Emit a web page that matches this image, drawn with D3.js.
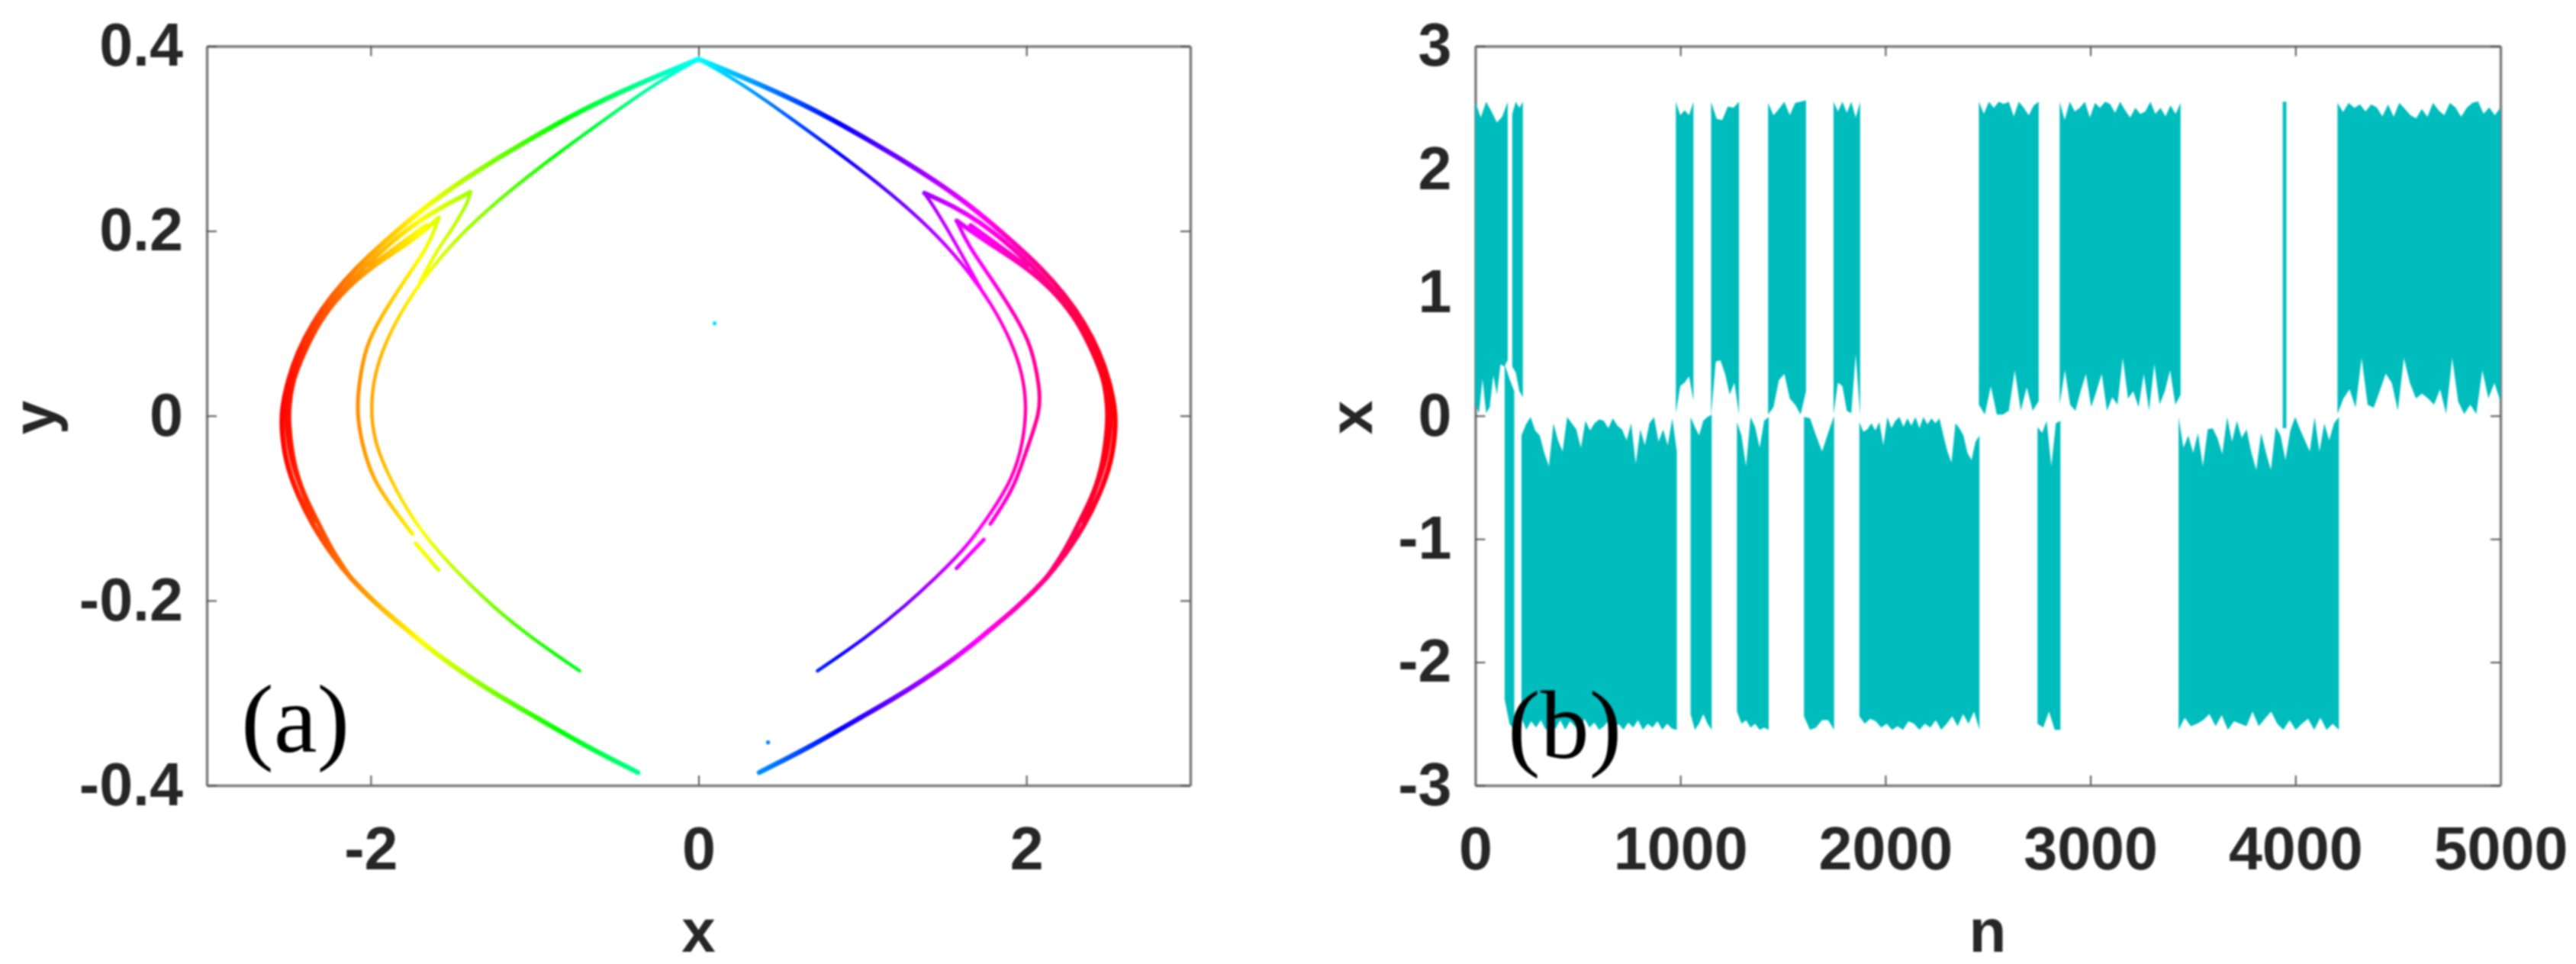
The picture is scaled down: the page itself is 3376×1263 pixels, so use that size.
<!DOCTYPE html>
<html><head><meta charset="utf-8">
<script src="https://cdn.jsdelivr.net/npm/d3@7/dist/d3.min.js"></script>
<style>
html,body{margin:0;padding:0;background:#fff}
svg{display:block;filter:blur(0.8px)}
.tick text{font-family:"Liberation Sans",Arial,sans-serif;font-weight:700;font-size:79px;fill:#262626}
.lab{font-family:"Liberation Sans",Arial,sans-serif;font-weight:700;font-size:80px;fill:#262626}
.pan{font-family:"Liberation Serif","Times New Roman",serif;font-size:128px;fill:#000}
</style></head><body>
<svg id="c" width="3376" height="1263"></svg>
<script>
// ---------- panel (a): branches of the attractor, [x, y]
const outerL=[[0,.386],[-.40,.357],[-.756,.327],[-1.022,.300],[-1.289,.272],[-1.497,.248],[-1.704,.221],[-1.912,.189],[-2.09,.160],[-2.238,.130],[-2.356,.100],[-2.445,.069],[-2.504,.039],[-2.54,.009],[-2.545,-.012],[-2.52,-.05],[-2.445,-.086],[-2.356,-.118],[-2.238,-.150],[-2.119,-.177],[-1.941,-.208],[-1.734,-.238],[-1.586,-.260],[-1.289,-.296],[-.993,-.326],[-.694,-.357],[-.370,-.386]];
const innerL=[[0,.386],[-.252,.361],[-.548,.324],[-.904,.278],[-1.171,.241],[-1.408,.204],[-1.615,.164],[-1.793,.120],[-1.912,.079],[-1.975,.046],[-2.003,.009],[-1.975,-.03],[-1.897,-.062],[-1.793,-.098],[-1.645,-.136],[-1.467,-.170],[-1.26,-.206],[-1.023,-.240],[-.726,-.276]];
const tipALowerL=[[-1.70,.145],[-1.586,.182],[-1.51,.2],[-1.452,.2176],[-1.408,.231],[-1.393,.242]];
const tipAUpperL=[[-1.393,.242],[-1.586,.2244],[-1.793,.2007],[-2.05,.160],[-2.2,.130],[-2.33,.100],[-2.42,.069],[-2.49,.039],[-2.515,.009],[-2.515,-.012],[-2.485,-.05],[-2.42,-.08],[-2.345,-.114]];
const tipBUpperL=[[-1.586,.214],[-1.74,.190],[-2.01,.160],[-2.195,.130],[-2.32,.100],[-2.405,.069],[-2.476,.039],[-2.50,.009],[-2.50,-.01],[-2.475,-.05],[-2.41,-.085],[-2.32,-.116],[-2.23,-.148],[-2.12,-.176]];
const fanL=[[-1.66,.206],[-1.80,.188],[-2.0,.162]];
const tipBLowerL=[[-1.586,.214],[-1.645,.184],[-1.793,.147],[-1.941,.106],[-2.03,.076],[-2.075,.032],[-2.085,-.001],[-2.04,-.04],[-1.98,-.07],[-1.882,-.096],[-1.745,-.128]];
const tailL=[[-1.725,-.138],[-1.586,-.167]];
const outerR=[[0,.386],[.40,.357],[.756,.327],[1.022,.300],[1.289,.272],[1.497,.248],[1.704,.221],[1.912,.189],[2.09,.160],[2.238,.130],[2.356,.100],[2.445,.069],[2.504,.039],[2.54,.009],[2.545,-.012],[2.52,-.05],[2.445,-.086],[2.356,-.118],[2.238,-.150],[2.119,-.177],[1.941,-.208],[1.734,-.238],[1.586,-.260],[1.289,-.296],[.993,-.326],[.694,-.357],[.370,-.386]];
const innerR=[[0,.386],[.252,.361],[.548,.324],[.904,.278],[1.171,.241],[1.408,.204],[1.615,.164],[1.793,.120],[1.912,.079],[1.975,.046],[2.003,.012],[1.98,-.03],[1.915,-.068],[1.793,-.103],[1.645,-.140],[1.467,-.172],[1.26,-.206],[1.023,-.240],[.726,-.276]];
const tipALowerR=[[1.72,.138],[1.617,.171],[1.49,.2107],[1.41,.233],[1.378,.241]];
const tipAUpperR=[[1.378,.241],[1.586,.2244],[1.793,.2007],[2.05,.160],[2.2,.130],[2.33,.100],[2.42,.069],[2.49,.039],[2.515,.009],[2.515,-.012],[2.485,-.05],[2.42,-.08],[2.345,-.114]];
const tipBUpperR=[[1.575,.211],[1.74,.190],[2.01,.160],[2.195,.130],[2.32,.100],[2.405,.069],[2.476,.039],[2.495,.009],[2.495,-.01],[2.47,-.05],[2.41,-.085],[2.32,-.116],[2.23,-.148],[2.12,-.176]];
const fanR=[[1.66,.206],[1.80,.188],[2.0,.162]];
const tipBLowerR=[[1.575,.211],[1.645,.184],[1.793,.147],[1.941,.106],[2.03,.076],[2.08,.032],[2.088,.005],[1.99,-.042],[1.926,-.078],[1.78,-.117]];
const tailR=[[1.74,-.134],[1.574,-.165]];
const strayPoints=[[.098,.100],[.424,-.3535]];
const xTicksA=[-2,0,2], xTickLabelsA=["-2","0","2"];
const yTicksA=[-.4,-.2,0,.2,.4], yTickLabelsA=["-0.4","-0.2","0","0.2","0.4"];
const hueStops=[0,60,120,180,240,300,360];

// ---------- panel (b): time series envelope, one stretch per residence in a well
const segStart=[0,143,180,225,978,1050,1150,1276,1428,1603,1747,1873,2456,2742,2850,3430,3938,4205];
const segEnd  =[158,190,232,983,1064,1153,1286,1431,1613,1750,1877,2459,2748,2854,3440,4212,3956,5000];
const segTop=[
[2.55,2.42,2.55,2.47,2.38,2.43,2.55],
[.42,.3,.2],
[2.45,2.55,2.5,2.55],
[-.16,-.07,-.01,-.12,-.16,-.3,-.41,-.06,-.2,-.29,-.01,-.06,-.11,-.26,-.04,-.12,-.06,-.03,-.04,-.1,-.02,-.08,-.11,-.2,-.06,-.39,-.11,-.24,-.06,-.01,-.21,-.11,-.24,-.02,-.29],
[2.55,2.44,2.48,2.44,2.55],
[-.01,-.09,-.16,-.04,-.01,.01],
[2.55,2.41,2.40,2.51,2.5,2.55],
[-.05,-.16,-.41,-.01,-.09,-.26,-.04,-.01],
[2.54,2.44,2.49,2.55,2.44,2.54,2.55,2.56],
[-.01,-.02,-.16,-.29,-.14,0],
[2.55,2.47,2.55,2.46,2.55,2.42,2.55],
[-.05,-.13,-.11,-.06,-.12,-.05,-.24,-.01,-.1,-.04,-.01,-.09,-.02,-.08,-.01,-.1,-.01,-.07,-.02,-.06,-.02,-.16,-.29,-.38,-.06,-.1,-.16,-.3,-.36,-.21,-.16],
[2.55,2.45,2.55,2.5,2.55,2.53,2.55,2.43,2.55,2.5,2.44,2.52,2.55],
[-.09,-.14,-.04,-.41,-.06,-.04],
[2.55,2.4,2.55,2.47,2.5,2.55,2.42,2.54,2.5,2.55,2.53,2.46,2.55,2.48,2.42,2.5,2.45,2.47,2.55,2.45,2.5,2.43,2.52,2.45,2.54],
[-.01,-.26,-.16,-.3,-.14,-.41,-.11,-.1,-.18,-.31,-.01,-.21,-.04,-.18,-.11,-.3,-.44,-.14,-.3,-.44,-.09,-.16,-.36,-.12,-.01,-.11,-.2,-.29,-.01,-.29,-.06,-.2,-.06,-.01],
[2.55,2.55],
[2.54,2.465,2.54,2.5,2.528,2.47,2.528,2.503,2.43,2.528,2.427,2.54,2.49,2.44,2.414,2.49,2.427,2.54,2.48,2.44,2.54,2.503,2.427,2.5,2.54,2.553,2.452,2.503,2.44,2.503]
];
const segBottom=[
[.1,.02,.3,.02,.07,.33,.17,.42,.4,.45],
[-2.3,-2.5,-2.55],
[.4,.35,.2,.15],
[-2.45,-2.55,-2.48,-2.53,-2.47,-2.55,-2.5,-2.54,-2.47,-2.55,-2.48,-2.52,-2.55,-2.46,-2.53,-2.49,-2.55,-2.52,-2.47,-2.54,-2.5,-2.55,-2.49,-2.53,-2.47,-2.55,-2.5,-2.53,-2.48,-2.55,-2.5,-2.54,-2.55],
[.02,.24,.27,.32,.12],
[-2.42,-2.55,-2.5,-2.42,-2.5,-2.55],
[0,.44,.45,.34,.17,.27,.01],
[-2.4,-2.5,-2.47,-2.53,-2.5,-2.55,-2.53,-2.55],
[.01,.07,.29,.34,.14,.09,.01,.2],
[-2.44,-2.55,-2.53,-2.47,-2.47,-2.55],
[.01,.27,.24,.04,.02,.5,0],
[-2.44,-2.5,-2.46,-2.48,-2.53,-2.5,-2.55,-2.52,-2.55,-2.48,-2.5,-2.55,-2.5,-2.53,-2.47,-2.55,-2.5,-2.44,-2.52,-2.42,-2.5,-2.4,-2.55],
[.09,.01,.24,.01,.01,.04,.37,.04,.23,.04,.12],
[-2.5,-2.53,-2.4,-2.55,-2.55],
[.09,.37,.09,.04,.2,.34,.07,.2,.34,.04,.15,.09,.47,.14,.2,.07,.34,.04,.42,.09,.2,.37,.09,.17],
[-2.55,-2.45,-2.52,-2.5,-2.47,-2.42,-2.52,-2.43,-2.55,-2.48,-2.5,-2.52,-2.4,-2.52,-2.46,-2.4,-2.5,-2.55,-2.47,-2.55,-2.5,-2.46,-2.55,-2.45,-2.55,-2.5,-2.55],
[-.1,-.1],
[.014,.141,.216,.065,.469,.09,.065,.2,.343,.267,.04,.469,.267,.141,.18,.141,.09,.216,.014,.469,.115,.014,.09,.014,.368,.141,.267,.115]
];
const xTicksB=[0,1000,2000,3000,4000,5000], xTickLabelsB=["0","1000","2000","3000","4000","5000"];
const yTicksB=[-3,-2,-1,0,1,2,3], yTickLabelsB=["-3","-2","-1","0","1","2","3"];

const svg=d3.select("#c");
const frameColor="#7c7c7c";

function frame(x,y,xT,xL,yT,yL){
  const [l,r]=x.range(),[b,t]=y.range();
  const g=svg.append("g");
  const inner=-13;
  g.append("g").attr("transform",`translate(0,${b})`)
    .call(d3.axisBottom(x).tickValues(xT).tickSizeInner(inner).tickSizeOuter(0).tickPadding(54).tickFormat((d,i)=>xL[i]));
  g.append("g").attr("transform",`translate(0,${t})`)
    .call(d3.axisTop(x).tickValues(xT).tickSizeInner(inner).tickSizeOuter(0).tickFormat(""));
  g.append("g").attr("transform",`translate(${l},0)`)
    .call(d3.axisLeft(y).tickValues(yT).tickSizeInner(inner).tickSizeOuter(0).tickPadding(31).tickFormat((d,i)=>yL[i]));
  g.append("g").attr("transform",`translate(${r},0)`)
    .call(d3.axisRight(y).tickValues(yT).tickSizeInner(inner).tickSizeOuter(0).tickFormat(""));
  g.selectAll(".domain").attr("stroke",frameColor).attr("stroke-width",3.5);
  g.selectAll(".tick line").attr("stroke","#555").attr("stroke-width",2);
  g.selectAll(".tick text").attr("fill",null);
}

// panel (a)
const xA=d3.scaleLinear().domain([-3,3]).range([271,1560]);
const yA=d3.scaleLinear().domain([-.4,.4]).range([1029,60.5]);
frame(xA,yA,xTicksA,xTickLabelsA,yTicksA,yTickLabelsA);

const hueX=d3.scaleLinear().domain([0,360]).range([-2.55,2.55]);
const grad=svg.append("defs").append("linearGradient").attr("id","hsv")
  .attr("gradientUnits","userSpaceOnUse")
  .attr("x1",xA(hueX(0))).attr("x2",xA(hueX(360))).attr("y1",0).attr("y2",0);
grad.selectAll("stop").data(hueStops).join("stop")
  .attr("offset",d=>d/360).attr("stop-color",d=>d3.hsl(d,1,.5).formatHex());

const curveLine=d3.line().x(d=>xA(d[0])).y(d=>yA(d[1])).curve(d3.curveBasis);
const branches=[
  {d:outerL,w:6.5},{d:outerR,w:6.5},
  {d:tipAUpperL,w:6},{d:tipAUpperR,w:6},{d:tipBUpperL,w:6},{d:tipBUpperR,w:6},
  {d:fanL,w:6},{d:fanR,w:6},
  {d:tipALowerL,w:4.5},{d:tipALowerR,w:4.5},
  {d:tipBLowerL,w:5},{d:tipBLowerR,w:5},{d:tailL,w:5},{d:tailR,w:5},
  {d:innerL,w:4.5},{d:innerR,w:4.5}
];
svg.append("g").selectAll("path").data(branches).join("path")
  .attr("d",b=>curveLine(b.d)).attr("fill","none").attr("stroke","url(#hsv)")
  .attr("stroke-width",b=>b.w).attr("stroke-linejoin","round").attr("stroke-linecap","round");
svg.append("g").selectAll("circle").data(strayPoints).join("circle")
  .attr("cx",d=>xA(d[0])).attr("cy",d=>yA(d[1])).attr("r",2.6)
  .attr("fill",d=>d3.hsl(hueX.invert(d[0]),1,.5).formatHex());

// panel (b)
const xB=d3.scaleLinear().domain([0,5000]).range([1933.5,3277]);
const yB=d3.scaleLinear().domain([-3,3]).range([1029,60.5]);
frame(xB,yB,xTicksB,xTickLabelsB,yTicksB,yTickLabelsB);

const bandLine=d3.line().x(d=>xB(d[0])).y(d=>yB(d[1]));
const bands=segStart.map((s,i)=>{
  const e=segEnd[i];
  const tn=d3.scaleLinear().domain([0,segTop[i].length-1]).range([s,e]);
  const bn=d3.scaleLinear().domain([0,segBottom[i].length-1]).range([s,e]);
  return segTop[i].map((v,k)=>[tn(k),v]).concat(segBottom[i].map((v,k)=>[bn(k),v]).reverse());
});
svg.append("g").selectAll("path").data(bands).join("path")
  .attr("d",d=>bandLine(d)+"Z").attr("fill","#00bdbd");

// axis titles and panel letters
const lab=(t,x,y,rot)=>svg.append("text").attr("class","lab").attr("text-anchor","middle")
  .attr("transform",`translate(${x},${y})`+(rot?" rotate(-90)":"")).text(t);
lab("x",915.5,1247);
lab("y",72,547,true);
lab("n",2605,1247);
lab("x",1798,547,true);
svg.append("text").attr("class","pan").attr("x",316).attr("y",985).text("(a)");
svg.append("text").attr("class","pan").attr("x",1976).attr("y",993).text("(b)");
</script>
</body></html>
